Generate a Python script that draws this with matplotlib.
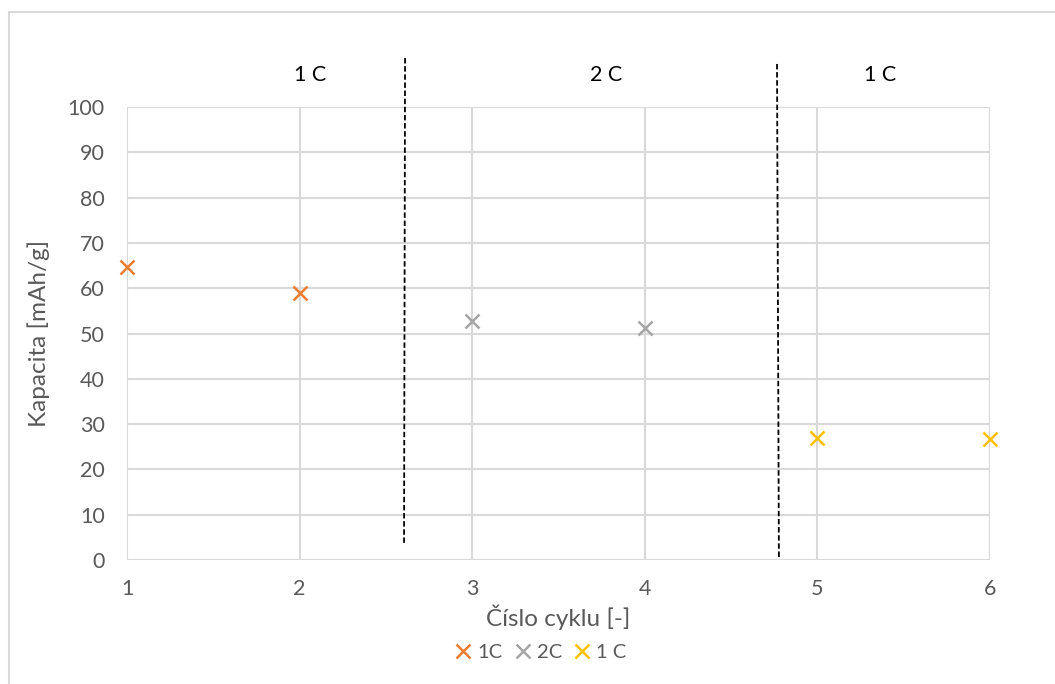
import matplotlib.pyplot as plt
from matplotlib.patches import Rectangle

# ---------- Data ----------
cycles_1c = [1, 2]
cap_1c = [64.6, 58.9]
cycles_2c = [3, 4]
cap_2c = [52.8, 51.2]
cycles_1c_end = [5, 6]
cap_1c_end = [26.9, 26.7]

series_labels = ["1C", "2C", "1 C"]
series_colors = ["#ED7D31", "#A5A5A5", "#FFC000"]

# dashed separators (drawn shapes, slightly slanted) and section headers
sep_1 = ([2.611, 2.605], [110.8, 3.3])
sep_2 = ([4.766, 4.777], [109.5, 0.4])
headers = ["1 C", "2 C", "1 C"]

plt.rcParams['font.family'] = ['Lato', 'DejaVu Sans']

W, H = 1055, 684
fig = plt.figure(figsize=(W / 100, H / 100), dpi=100)
ax = fig.add_axes([127 / W, (H - 560) / H, (990 - 127) / W, (560 - 107) / H])

ax.set_xlim(1, 6)
ax.set_ylim(0, 100)
ax.set_xticks(range(1, 7))
ax.set_yticks(range(0, 101, 10))
ax.grid(True, color="#D9D9D9", linewidth=1.5)
ax.set_axisbelow(True)
for s in ax.spines.values():
    s.set_visible(False)
ax.tick_params(length=0, labelsize=15.5, labelcolor="#595959")
ax.tick_params(axis='y', pad=16)
ax.tick_params(axis='x', pad=14)

for xs, ys, lab, col in zip([cycles_1c, cycles_2c, cycles_1c_end],
                            [cap_1c, cap_2c, cap_1c_end],
                            series_labels, series_colors):
    ax.plot(xs, ys, linestyle='none', marker='x', markersize=10,
            markeredgewidth=1.8, color=col, label=lab, clip_on=False, zorder=3)

for sx, sy in (sep_1, sep_2):
    ax.plot(sx, sy, color="black", linestyle=(0, (3, 1.5)), linewidth=1.3,
            clip_on=False, zorder=4)

for txt, px in zip(headers, [310, 606, 880]):
    fig.text(px / W, (H - 75) / H, txt, ha='center', va='center',
             fontsize=15.5, color="black")

ax.set_xlabel("Číslo cyklu [-]", fontsize=17.5, color="#595959", labelpad=4)
ax.set_ylabel("Kapacita [mAh/g]", fontsize=17.5, color="#595959", labelpad=13)

leg = ax.legend(loc='center', bbox_to_anchor=(541 / W, (H - 652) / H),
                bbox_transform=fig.transFigure, ncol=3, frameon=False,
                fontsize=14.5, handlelength=0.8, handletextpad=0.3,
                columnspacing=0.6)
for t in leg.get_texts():
    t.set_color("#595959")

# chart area frame
fig.patches.append(Rectangle((8.5 / W, -0.05), 1.1, (H - 11.5) / H + 0.05,
                             transform=fig.transFigure, fill=False,
                             edgecolor="#D9D9D9", linewidth=1.5))

fig.savefig("out.png", dpi=100)
